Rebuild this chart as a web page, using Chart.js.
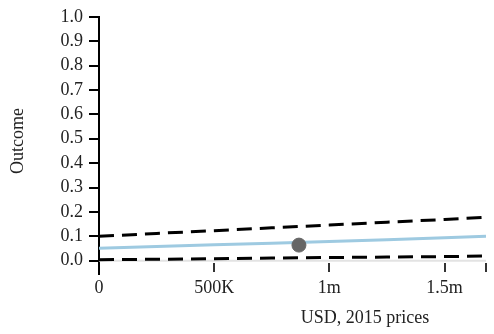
<!DOCTYPE html>
<html>
<head>
<meta charset="utf-8">
<script src="https://cdn.jsdelivr.net/npm/chart.js@4"></script>
<style>
  html, body { margin: 0; padding: 0; background: #fff; }
  #wrap { width: 494px; height: 334px; }
</style>
</head>
<body>
<div id="wrap"><canvas id="chart"></canvas></div>
<script>
// ---- dati ----
const usd        = [0, 250000, 500000, 750000, 1000000, 1250000, 1500000, 1680000];
const upperBound = [0.100, 0.112, 0.123, 0.135, 0.146, 0.158, 0.169, 0.178];
const estimate   = [0.051, 0.058, 0.065, 0.072, 0.079, 0.086, 0.094, 0.100];
const lowerBound = [0.004, 0.006, 0.008, 0.011, 0.013, 0.015, 0.017, 0.019];
const observed   = [{ x: 868000, y: 0.064 }];

const xTickValues = [0, 500000, 1000000, 1500000, 1680000];
const xTickLabels = ['0', '500K', '1m', '1.5m', ''];
const yTickValues = [0, 0.1, 0.2, 0.3, 0.4, 0.5, 0.6, 0.7, 0.8, 0.9, 1.0];

const FONT = { family: '"Liberation Serif", "DejaVu Serif", serif', size: 18 };
const toPts = ys => usd.map((x, i) => ({ x: x, y: ys[i] }));

// titoli degli assi e prolungamento dell'asse y
const axisExtras = {
    id: 'axisExtras',
    afterDraw(chart) {
        const ctx = chart.ctx;
        const a = chart.chartArea;
        ctx.save();
        ctx.strokeStyle = '#000';
        ctx.lineWidth = 2;
        ctx.beginPath();
        ctx.moveTo(a.left, a.bottom);
        ctx.lineTo(a.left, a.bottom + 12);
        ctx.stroke();
        ctx.fillStyle = '#222';
        ctx.font = FONT.size + 'px ' + FONT.family;
        ctx.textAlign = 'center';
        ctx.textBaseline = 'middle';
        ctx.fillText('USD, 2015 prices', 365, 318);
        ctx.translate(18, 141);
        ctx.rotate(-Math.PI / 2);
        ctx.fillText('Outcome', 0, 0);
        ctx.restore();
    }
};

new Chart(document.getElementById('chart'), {
    type: 'line',
    data: {
        datasets: [
            { data: [{ x: 0, y: 0 }, { x: 1680000, y: 0 }], borderColor: '#e3e3e3', borderWidth: 2, pointRadius: 0, order: 10 },
            { data: toPts(upperBound), borderColor: '#000', borderWidth: 3, borderDash: [15, 8], pointRadius: 0, order: 2 },
            { data: toPts(lowerBound), borderColor: '#000', borderWidth: 3, borderDash: [15, 8], pointRadius: 0, order: 2 },
            { data: toPts(estimate), borderColor: '#9ecae1', borderWidth: 3, pointRadius: 0, order: 3 },
            { type: 'scatter', data: observed, backgroundColor: '#666', borderColor: '#666', pointRadius: 7, order: 1 }
        ]
    },
    options: {
        responsive: true,
        maintainAspectRatio: false,
        animation: false,
        layout: { padding: { top: 16, right: 1, left: 0, bottom: 0 } },
        plugins: { legend: { display: false }, tooltip: { enabled: false } },
        scales: {
            x: {
                type: 'linear',
                min: 0,
                max: 1680000,
                afterFit: s => { s.height = 71; },
                afterBuildTicks: s => { s.ticks = xTickValues.map(v => ({ value: v })); },
                ticks: {
                    color: '#222', font: FONT, padding: 5, maxRotation: 0, autoSkip: false,
                    callback: (v, i) => xTickLabels[i]
                },
                grid: { drawOnChartArea: false, drawTicks: true, tickLength: 9, color: '#333', lineWidth: 2 },
                border: { display: false }
            },
            y: {
                min: -0.0094,
                max: 1.0,
                afterFit: s => { s.width = 99; },
                afterBuildTicks: s => { s.ticks = yTickValues.map(v => ({ value: v })); },
                ticks: { color: '#222', font: FONT, padding: 6, callback: v => v.toFixed(1) },
                grid: { drawOnChartArea: false, drawTicks: true, tickLength: 10, color: '#000', lineWidth: 2 },
                border: { display: true, color: '#000', width: 2 }
            }
        }
    },
    plugins: [axisExtras]
});
</script>
</body>
</html>
